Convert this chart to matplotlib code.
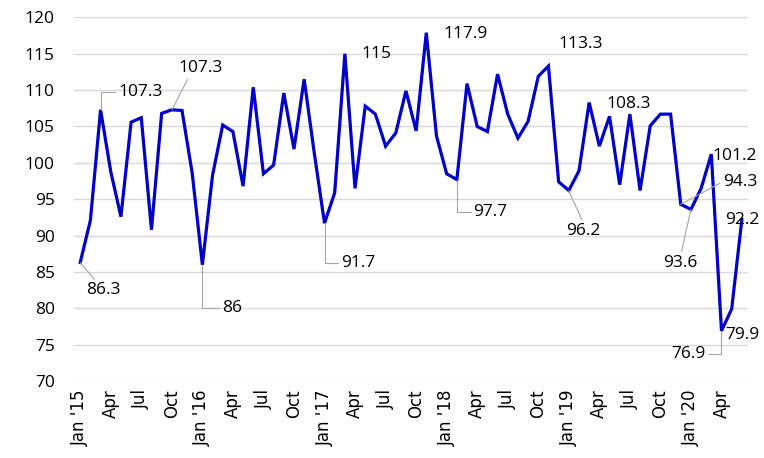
import numpy as np
import matplotlib.pyplot as plt

# monthly index, Jan 2015 - Jun 2020
values = [86.3, 92.1, 107.3, 98.8, 92.6, 105.6, 106.2, 90.8, 106.8, 107.3, 107.2, 98.6,
          86.0, 98.3, 105.2, 104.3, 96.8, 110.4, 98.5, 99.7, 109.6, 101.9, 111.5, 101.3,
          91.7, 95.9, 115.0, 96.5, 107.8, 106.7, 102.3, 104.1, 109.9, 104.4, 117.9, 103.7,
          98.5, 97.7, 110.9, 105.0, 104.3, 112.2, 106.7, 103.4, 105.7, 111.9, 113.3, 97.4,
          96.2, 98.9, 108.3, 102.3, 106.4, 97.0, 106.7, 96.2, 105.1, 106.7, 106.7, 94.3,
          93.6, 96.5, 101.2, 76.9, 79.9, 92.2]
tick_labels = ["Jan '15", "Apr", "Jul", "Oct", "Jan '16", "Apr", "Jul", "Oct",
               "Jan '17", "Apr", "Jul", "Oct", "Jan '18", "Apr", "Jul", "Oct",
               "Jan '19", "Apr", "Jul", "Oct", "Jan '20", "Apr"]
labelled_months = [0, 2, 9, 12, 24, 26, 34, 37, 46, 48, 50, 59, 60, 62, 63, 64, 65]

x = np.arange(len(values))

fig = plt.figure(figsize=(7.64, 4.58), dpi=100)
ax = fig.add_axes([0.097, 0.168, 0.882, 0.794])

ax.plot(x, values, color='#0000CC', lw=2.3, solid_joinstyle='miter')

ax.set_ylim(70, 120)
ax.set_xlim(-0.6, 65.6)
ax.set_yticks(np.arange(70, 121, 5))
ax.set_xticks(np.arange(0, len(values), 3))
ax.set_xticklabels(tick_labels, rotation=90, fontsize=12, family='DejaVu Sans')
ax.tick_params(axis='y', labelsize=12.5, length=0, pad=14)
ax.tick_params(axis='x', length=0, pad=6)
for lab in ax.get_yticklabels():
    lab.set_family('Open Sans')
ax.grid(axis='y', color='#d9d9d9', lw=1)
ax.set_axisbelow(True)
for s in ax.spines.values():
    s.set_visible(False)

# label placement: (text x, text y, leader style, relpos)
layout = {
    0: (2.3, 82.5, 'line', (0.3, 1.0)),
    2: (5.9, 109.8, 'elbow', (0.0, 0.5)),
    9: (11.8, 113.0, 'line', (0.25, 0.0)),
    12: (14.9, 80.1, 'elbow', (0.0, 0.5)),
    24: (27.3, 86.3, 'elbow', (0.0, 0.5)),
    26: (29.1, 114.9, None, None),
    34: (37.9, 117.7, None, None),
    37: (40.3, 93.2, 'elbow', (0.0, 0.5)),
    46: (49.2, 116.3, None, None),
    48: (49.4, 90.7, 'line', (0.5, 1.0)),
    50: (53.9, 108.1, None, None),
    59: (64.8, 97.4, 'line', (0.0, 0.5)),
    60: (59.0, 86.3, 'line', (0.5, 1.0)),
    62: (64.3, 100.9, None, None),
    63: (59.7, 73.7, 'elbow', (1.0, 0.5)),
    64: (65.0, 76.4, None, None),
    65: (65.0, 92.1, None, None),
}

for i in labelled_months:
    tx, ty, style, rp = layout[i]
    txt = f"{values[i]:g}"
    kw = dict(ha='center', va='center', fontsize=12.5, family='Open Sans',
              annotation_clip=False)
    if style == 'line':
        kw['arrowprops'] = dict(arrowstyle='-', color='#a6a6a6', lw=0.8,
                                relpos=rp, shrinkA=0, shrinkB=0)
    elif style == 'elbow':
        kw['arrowprops'] = dict(arrowstyle='-', color='#a6a6a6', lw=0.8, relpos=rp,
                                connectionstyle='angle,angleA=0,angleB=90,rad=0',
                                shrinkA=0, shrinkB=0)
    ax.annotate(txt, xy=(x[i], values[i]), xytext=(tx, ty), **kw)

fig.savefig('out.png', dpi=100)
